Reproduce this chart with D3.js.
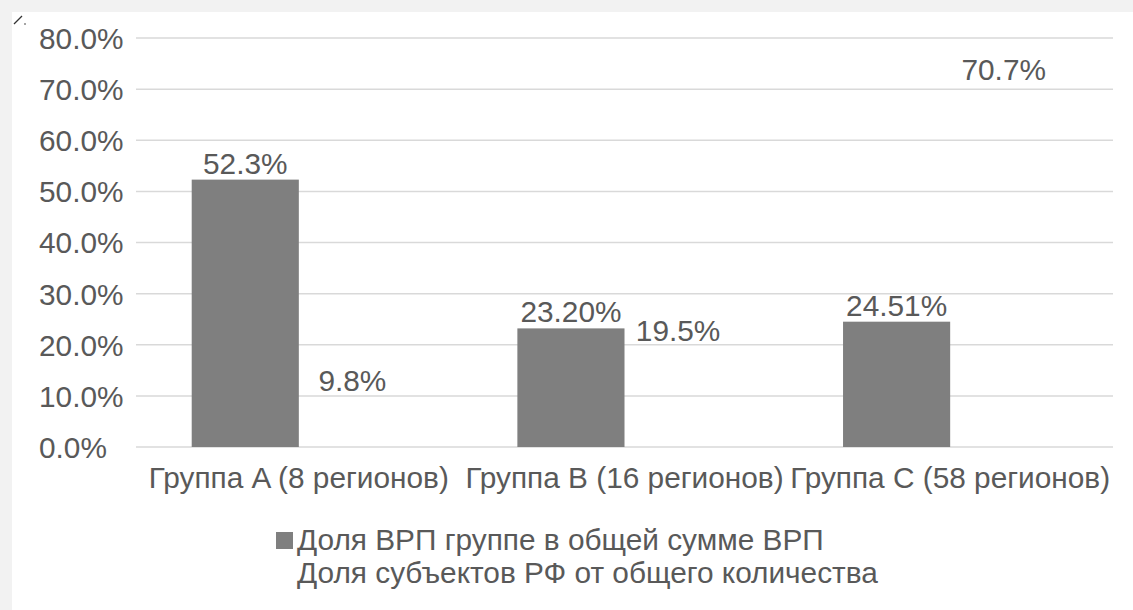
<!DOCTYPE html>
<html>
<head>
<meta charset="utf-8">
<script src="https://cdn.jsdelivr.net/npm/d3@7"></script>
<style>
  body { margin: 0; background: #f2f2f2; }
  svg { display: block; }
  text { font-family: "Liberation Sans", Arial, sans-serif; fill: #595959; }
</style>
</head>
<body>
<div class="chart"></div>
<script>
// data
var categories = ["Группа A (8 регионов)", "Группа B (16 регионов)", "Группа C (58 регионов)"];
var seriesNames = ["Доля ВРП группе в общей сумме ВРП", "Доля субъектов РФ от общего количества"];
var vrpShare = [0.523, 0.232, 0.2451];
var vrpLabels = ["52.3%", "23.20%", "24.51%"];
var regionShare = [0.098, 0.195, 0.707];
var regionLabels = ["9.8%", "19.5%", "70.7%"];
var yTicks = [0, 0.1, 0.2, 0.3, 0.4, 0.5, 0.6, 0.7, 0.8];
// second series has no fill in the source
var seriesColors = ["#7f7f7f", "none"];

var W = 1133, H = 610, fs = "29.8px";

var svg = d3.select(".chart")
  .append("svg")
  .attr("width", W)
  .attr("height", H);

// white chart panel
svg.append("rect")
  .attr("x", 12).attr("y", 12)
  .attr("width", W - 12).attr("height", H - 12)
  .attr("fill", "#ffffff");

// small corner mark
svg.append("line")
  .attr("x1", 14).attr("y1", 24).attr("x2", 22).attr("y2", 16)
  .attr("stroke", "#333").attr("stroke-width", 1.2);
svg.append("circle").attr("cx", 25).attr("cy", 24).attr("r", 0.8).attr("fill", "#333");

var rows = categories.map(function(c, i) {
  return {cat: c, vals: [
    {s: 0, v: vrpShare[i], label: vrpLabels[i]},
    {s: 1, v: regionShare[i], label: regionLabels[i]}
  ]};
});

var y = d3.scaleLinear().domain([0, 0.8]).range([447, 38]);
var x0 = d3.scaleBand().domain(categories).range([136, 1113]);
var x1 = d3.scaleBand().domain([0, 1]).range([0, x0.bandwidth()])
  .paddingInner(0).paddingOuter(0.52);

// gridlines
svg.append("g")
  .selectAll("line")
  .data(yTicks)
  .enter().append("line")
    .attr("x1", 136).attr("x2", 1113)
    .attr("y1", function(d) { return y(d); })
    .attr("y2", function(d) { return y(d); })
    .attr("stroke", "#d9d9d9")
    .attr("stroke-width", 1.5);

// y axis labels (left aligned like the source)
var yAxis = d3.axisLeft(y)
  .tickValues(yTicks)
  .tickSize(0)
  .tickFormat(d3.format(".1%"));

var gy = svg.append("g")
  .attr("transform", "translate(136,0)")
  .call(yAxis);
gy.select(".domain").remove();
gy.selectAll("text")
  .attr("x", -97)
  .attr("dy", "0.35em")
  .style("text-anchor", "start")
  .style("font-size", fs)
  .style("font-family", "'Liberation Sans', Arial, sans-serif")
  .style("fill", "#595959");

// x axis labels
var xAxis = d3.axisBottom(x0).tickSize(0);
var gx = svg.append("g")
  .attr("transform", "translate(0,447)")
  .call(xAxis);
gx.select(".domain").remove();
gx.selectAll("text")
  .attr("y", 0)
  .attr("dy", "41px")
  .style("font-size", fs)
  .style("font-family", "'Liberation Sans', Arial, sans-serif")
  .style("fill", "#595959");

// bars
var groups = svg.append("g")
  .selectAll("g")
  .data(rows)
  .enter().append("g")
    .attr("transform", function(d) { return "translate(" + x0(d.cat) + ",0)"; });

groups.selectAll("rect")
  .data(function(d) { return d.vals; })
  .enter().append("rect")
    .attr("x", function(d) { return x1(d.s); })
    .attr("y", function(d) { return y(d.v); })
    .attr("width", x1.bandwidth())
    .attr("height", function(d) { return y(0) - y(d.v); })
    .attr("fill", function(d) { return seriesColors[d.s]; });

// data labels
groups.selectAll("text.lbl")
  .data(function(d) { return d.vals; })
  .enter().append("text")
    .attr("class", "lbl")
    .attr("x", function(d) { return x1(d.s) + x1.bandwidth() / 2; })
    .attr("y", function(d) { return y(d.v) - 6; })
    .attr("text-anchor", "middle")
    .style("font-size", fs)
    .text(function(d) { return d.label; });

// legend
var legend = svg.append("g")
  .selectAll("g")
  .data(seriesNames)
  .enter().append("g")
    .attr("transform", function(d, i) { return "translate(276," + (550 + i * 33) + ")"; });

legend.append("rect")
  .attr("x", 0).attr("y", -18)
  .attr("width", 17).attr("height", 17)
  .attr("fill", function(d, i) { return seriesColors[i]; });

legend.append("text")
  .attr("x", 21)
  .style("font-size", fs)
  .text(function(d) { return d; });
</script>
</body>
</html>
